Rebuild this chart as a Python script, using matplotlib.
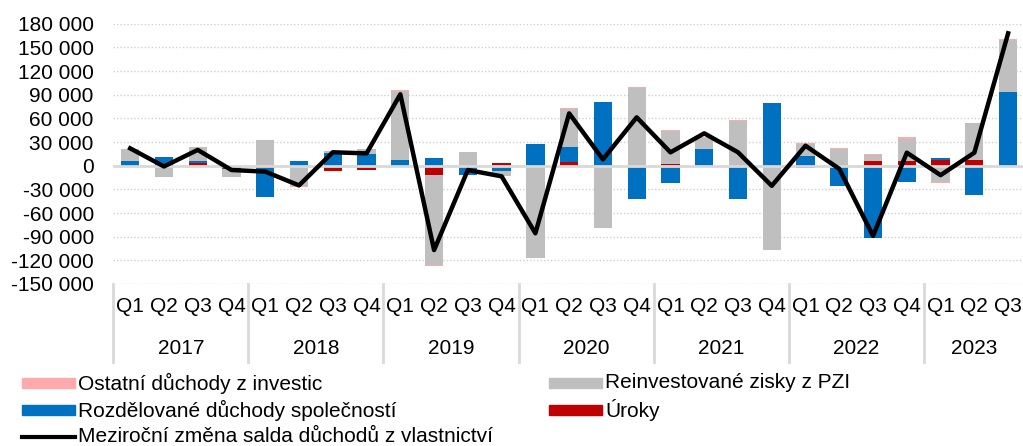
import numpy as np
import matplotlib.pyplot as plt
from matplotlib.patches import Rectangle
from matplotlib.lines import Line2D
from matplotlib.ticker import FuncFormatter

plt.rcParams['font.family'] = ['Liberation Sans', 'DejaVu Sans']

# Data
years = ['2017', '2018', '2019', '2020', '2021', '2022', '2023']
quarters = ['Q1', 'Q2', 'Q3', 'Q4'] * 6 + ['Q1', 'Q2', 'Q3']

ostatni = [800, 0, 800, -500, 500, -700, 500, 500, 500, -800, 0, -500, -500, 1300,
           -500, 500, 1300, 500, 1300, -500, 1300, 1300, 1700, 2000, -1300, 800, 1000]
reinvest = [13500, -14800, 17700, -10300, 32500, -26000, 3000, 5900, 88000, -114000,
            17700, -6300, -117000, 48500, -79000, 99000, 42000, 14500, 56600, -105000,
            14300, 21100, 6800, 27500, -20300, 46500, 66000]
rozdel = [6300, 11400, 2000, -1500, -36800, 5900, 15600, 14800, 7000, 10000, -11400,
          -6800, 28000, 18500, 81000, -40000, -22400, 21100, -42000, 80000, 12700,
          -24300, -92000, -20700, 2000, -37200, 93400]
uroky = [0, 0, 3500, -2500, -2500, 0, -6300, -5000, -2000, -11800, 0, 3800, 0, 5000,
         0, -2000, 1500, 0, 0, -1500, -2500, -1500, 6300, 6300, 7600, 7200, 0]
zmena = [22000, -1000, 20000, -5500, -7500, -25000, 17000, 15600, 90500, -107000,
         -5500, -13500, -85700, 66300, 8000, 61300, 16900, 41000, 17000, -25500,
         25300, -4000, -89000, 16500, -12000, 16500, 167800]

fig = plt.figure(figsize=(10.23, 4.46), dpi=100)
ax = fig.add_axes([113.3 / 1023, 1 - 284 / 446, (1025 - 113.3) / 1023, (284 - 23.7) / 446])

x = np.arange(len(quarters))
pos = np.zeros(len(x))
neg = np.zeros(len(x))
# stacked from zero outwards: red, blue, gray, pink
series = [(uroky, '#C00000'), (rozdel, '#0070C0'), (reinvest, '#BFBFBF'), (ostatni, '#FFABAB')]
for vals, col in series:
    v = np.array(vals, dtype=float)
    bottom = np.where(v >= 0, pos, neg)
    ax.bar(x, v, 0.54, bottom=bottom, color=col, zorder=2)
    pos = pos + np.clip(v, 0, None)
    neg = neg + np.clip(v, None, 0)

ax.plot(x, zmena, color='black', lw=3.2, zorder=4)
ax.axhline(0, color='#D9D9D9', lw=2, zorder=3)

ax.set_xlim(-0.5, len(x) - 0.5)
ax.set_ylim(-150000, 180000)
ax.set_yticks(np.arange(-150000, 180001, 30000))
ax.yaxis.set_major_formatter(FuncFormatter(lambda v, p: f'{int(v):,}'.replace(',', ' ')))
ax.tick_params(axis='y', length=0, pad=14, labelsize=15)
ax.grid(axis='y', color='#D0D0D0', ls=(0, (1, 1.5)), lw=1, zorder=0)
ax.set_xticks([])
for s in ax.spines.values():
    s.set_visible(False)

# category axis: quarters, years, separators
trans = ax.get_xaxis_transform()
for i, q in enumerate(quarters):
    ax.text(i, -0.088, q, transform=trans, ha='center', va='center', fontsize=15)
for k, yr in enumerate(years):
    n = 4 if k < 6 else 3
    ax.text(4 * k + (n - 1) / 2, -0.246, yr, transform=trans, ha='center', va='center', fontsize=15)
for b in range(0, 25, 4):
    ax.plot([b - 0.5, b - 0.5], [0, -0.3], transform=trans, color='#D9D9D9', lw=2, clip_on=False)

# legend
entries = [
    (22, 383, 'Ostatní důchody z investic', '#FFABAB', 'patch'),
    (549, 383, 'Reinvestované zisky z PZI', '#BFBFBF', 'patch'),
    (22, 410, 'Rozdělované důchody společností', '#0070C0', 'patch'),
    (549, 410, 'Úroky', '#C00000', 'patch'),
    (22, 437, 'Meziroční změna salda důchodů z vlastnictví', 'black', 'line'),
]
for px, py, label, col, kind in entries:
    if kind == 'patch':
        fig.add_artist(Rectangle((px / 1023, 1 - (py + 5) / 446), 53 / 1023, 10 / 446,
                                 transform=fig.transFigure, color=col))
    else:
        fig.add_artist(Line2D([px / 1023, (px + 53) / 1023], [1 - py / 446] * 2,
                              transform=fig.transFigure, color=col, lw=3))
    fig.text((px + 56) / 1023, 1 - py / 446, label, ha='left', va='center', fontsize=15)

fig.savefig('out.png', dpi=100)
